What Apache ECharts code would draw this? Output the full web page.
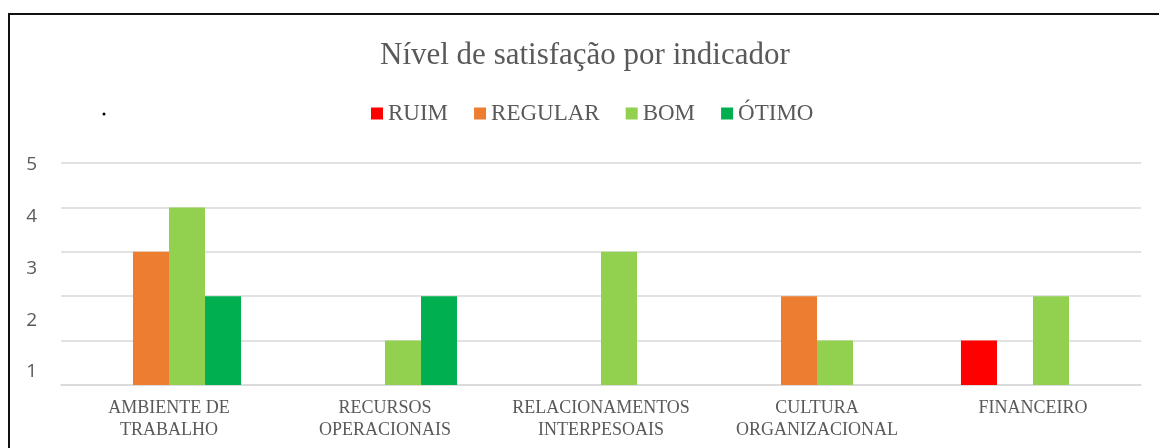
<!DOCTYPE html>
<html>
<head>
<meta charset="utf-8">
<script src="https://cdn.jsdelivr.net/npm/echarts@6/dist/echarts.min.js"></script>
<style>
html,body{margin:0;padding:0;background:#fff;}
#chart{width:1159px;height:448px;}
</style>
</head>
<body>
<div id="chart"></div>
<script>
const categories = ['AMBIENTE DE\nTRABALHO', 'RECURSOS\nOPERACIONAIS', 'RELACIONAMENTOS\nINTERPESOAIS', 'CULTURA\nORGANIZACIONAL', 'FINANCEIRO'];
const seriesNames = ['RUIM', 'REGULAR', 'BOM', 'ÓTIMO'];
const ruim = [0, 0, 0, 0, 1];
const regular = [3, 0, 0, 2, 0];
const bom = [4, 1, 3, 1, 2];
const otimo = [2, 2, 0, 0, 0];
const yTickLabels = [1, 2, 3, 4, 5];
const colors = ['#FF0000', '#ED7D31', '#92D050', '#00B050'];

const chart = echarts.init(document.getElementById('chart'), null, {renderer: 'canvas'});
const serif = 'Liberation Serif, Times New Roman, serif';
const grey = '#595959';
const gridColor = '#D9D9D9';
const values = [ruim, regular, bom, otimo];

chart.setOption({
  backgroundColor: '#fff',
  animation: false,
  title: {
    text: 'Nível de satisfação por indicador',
    left: 380,
    top: 40,
    padding: 0,
    textStyle: {fontFamily: serif, fontSize: 31, fontWeight: 'normal', color: grey}
  },
  legend: {
    data: seriesNames,
    left: 371,
    top: 102,
    padding: 0,
    icon: 'rect',
    itemWidth: 12,
    itemHeight: 12,
    itemGap: 26,
    textStyle: {fontFamily: serif, fontSize: 23, color: grey}
  },
  grid: {left: 61, right: 18, top: 163, bottom: 63, containLabel: false},
  xAxis: {
    type: 'category',
    data: categories,
    axisLine: {lineStyle: {color: gridColor, width: 1.5}},
    axisTick: {length: 6, lineStyle: {color: gridColor, width: 1.5}},
    axisLabel: {interval: 0, fontFamily: serif, fontSize: 18, lineHeight: 22, color: grey, margin: 12}
  },
  yAxis: [
    {
      type: 'value', min: 0, max: 5, interval: 1,
      axisLine: {show: false}, axisTick: {show: false},
      axisLabel: {show: false},
      splitLine: {lineStyle: {color: gridColor, width: 1.5}}
    },
    {
      type: 'value', min: 0.75, max: 5.04, position: 'left',
      axisLine: {show: false}, axisTick: {show: false},
      splitLine: {show: false},
      axisLabel: {customValues: yTickLabels, fontFamily: 'Open Sans, sans-serif', fontSize: 19, color: grey, margin: 24}
    }
  ],
  graphic: [
    {type: 'rect', shape: {x: 9, y: 14, width: 1400, height: 700}, style: {fill: 'none', stroke: '#111', lineWidth: 2}, silent: true},
    {type: 'circle', shape: {cx: 104, cy: 114, r: 1.5}, style: {fill: '#000'}, silent: true}
  ],
  series: seriesNames.map((n, i) => ({
    name: n,
    type: 'bar',
    yAxisIndex: 0,
    data: values[i],
    barGap: '0%',
    barCategoryGap: '33.3%',
    itemStyle: {color: colors[i]}
  }))
});
</script>
</body>
</html>
